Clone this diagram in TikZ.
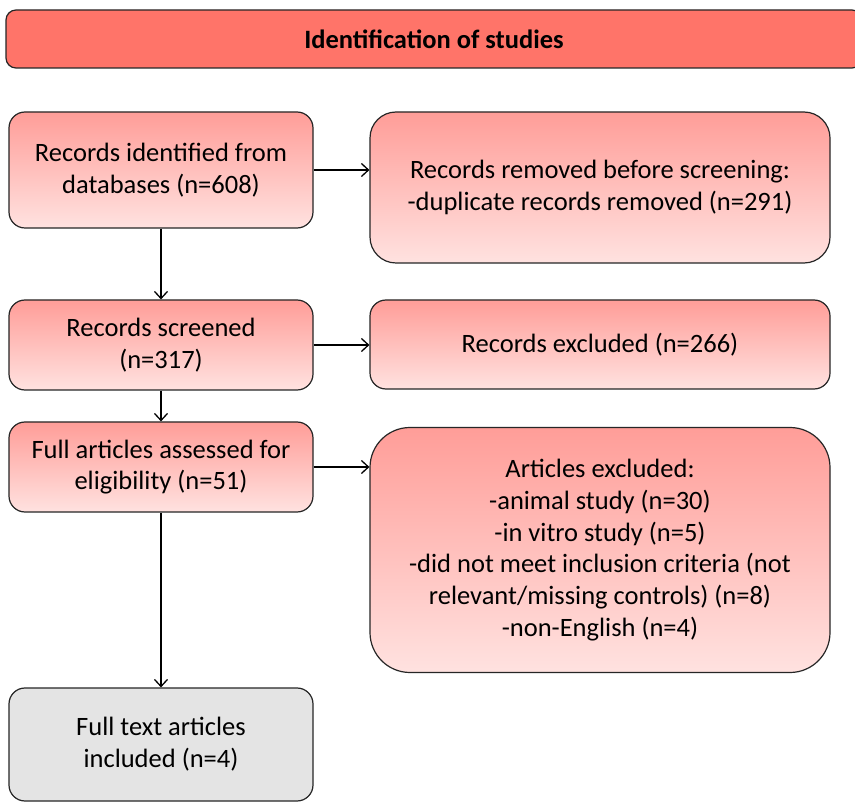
\documentclass[tikz,border=0pt]{standalone}
\usepackage{fontspec}
\setmainfont{Carlito}
\usetikzlibrary{arrows.meta}
\definecolor{headred}{HTML}{FF7469}
\definecolor{boxtop}{HTML}{FF9D98}
\definecolor{boxbot}{HTML}{FFE2E0}
\definecolor{boxgray}{HTML}{E4E4E4}
\tikzset{
	stagebox/.style={draw=black!85, line width=1.2pt, rounded corners=16pt,
		top color=boxtop, bottom color=boxbot, align=center,
		font=\fontsize{26.5}{31.8}\selectfont, inner sep=0pt},
	headbox/.style={draw=black!85, line width=1.2pt, rounded corners=10pt,
		fill=headred, font=\fontsize{26.5}{30}\selectfont\bfseries},
	arr/.style={-{Straight Barb[length=7pt,width=13pt]}, line width=1.3pt}
}
\begin{document}
\begin{tikzpicture}[x=1pt,y=-1pt]
	\useasboundingbox (0,0) rectangle (855,802);
	\clip (0,0) rectangle (855,802);
	\fill[white] (0,0) rectangle (855,802);
	\node[headbox, minimum width=856pt, minimum height=58pt] (head) at (434,39) {Identification of studies};
	\node[stagebox, minimum width=304pt, minimum height=116pt] (ident) at (161,170)
		{Records identified from\\databases (n=608)};
	\node[stagebox, minimum width=460pt, minimum height=151pt, rounded corners=26pt] (dupl) at (600,187.5)
		{Records removed before screening:\\-duplicate records removed (n=291)};
	\node[stagebox, minimum width=304pt, minimum height=90pt] (screen) at (161,345)
		{Records screened\\(n=317)};
	\node[stagebox, minimum width=460pt, minimum height=89pt] (excl) at (600,344.5)
		{Records excluded (n=266)};
	\node[stagebox, minimum width=304pt, minimum height=90pt] (full) at (161,467)
		{Full articles assessed for\\eligibility (n=51)};
	\node[stagebox, minimum width=460pt, minimum height=245pt, rounded corners=40pt] (artexcl) at (600,550)
		{Articles excluded:\\-animal study (n=30)\\-in vitro study (n=5)\\-did not meet inclusion criteria (not\\relevant/missing controls) (n=8)\\-non-English (n=4)};
	\node[stagebox, top color=boxgray, bottom color=boxgray, minimum width=304pt, minimum height=113pt] (incl) at (161,744.5)
		{Full text articles\\included (n=4)};
	\draw[arr] (ident) -- (ident -| dupl.west);
	\draw[arr] (ident) -- (screen);
	\draw[arr] (screen) -- (screen -| excl.west);
	\draw[arr] (screen) -- (full);
	\draw[arr] (full) -- (full -| artexcl.west);
	\draw[arr] (full) -- (incl);
\end{tikzpicture}
\end{document}
